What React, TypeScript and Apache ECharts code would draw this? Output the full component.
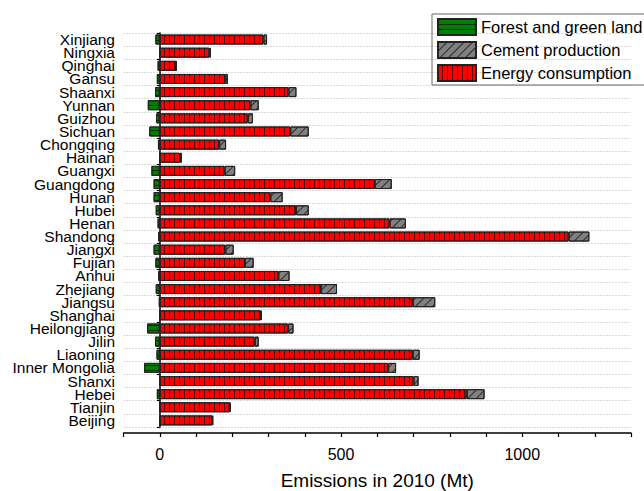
import React, { useEffect, useRef } from "react";
import * as echarts from "echarts";

const provinces = [
  "Beijing", "Tianjin", "Hebei", "Shanxi", "Inner Mongolia", "Liaoning", "Jilin", "Heilongjiang",
  "Shanghai", "Jiangsu", "Zhejiang", "Anhui", "Fujian", "Jiangxi", "Shandong", "Henan",
  "Hubei", "Hunan", "Guangdong", "Guangxi", "Hainan", "Chongqing", "Sichuan", "Guizhou",
  "Yunnan", "Shaanxi", "Gansu", "Qinghai", "Ningxia", "Xinjiang",
];

const energy = [
  145, 193, 847, 700, 630, 698, 262, 354,
  279, 698, 445, 327, 235, 181, 1128, 634,
  376, 305, 593, 179, 56, 164, 360, 243,
  250, 355, 181, 45, 137, 286,
];

const cement = [
  2, 2, 49, 14, 22, 19, 11, 15,
  3, 62, 44, 31, 24, 23, 57, 45,
  35, 34, 47, 29, 5, 19, 51, 14,
  23, 22, 7, 1, 4, 10,
];

const forest = [
  -1, -1, -8, -1, -43, -9, -13, -35,
  -1, -2, -11, -4, -12, -17, -4, -6,
  -11, -17, -17, -23, -1, -5, -29, -10,
  -33, -13, -8, -6, -1, -12,
];

const xTickLabels = [0, 500, 1000];

const FONT = "'Liberation Sans', Arial, sans-serif";

export default function App() {
  const ref = useRef<HTMLDivElement>(null);

  useEffect(() => {
    if (!ref.current) return;
    const chart = echarts.init(ref.current, undefined, { renderer: "svg" });
    const border = { borderColor: "#222", borderWidth: 1 };
    chart.setOption({
      animation: false,
      textStyle: { fontFamily: FONT },
      grid: {
        left: 123.5,
        right: 13,
        top: 33,
        bottom: 64,
        containLabel: false,
        outerBoundsMode: "none",
      },
      legend: {
        orient: "vertical",
        left: 432,
        top: 14,
        data: ["Forest and green land", "Cement production", "Energy consumption"],
        icon: "rect",
        itemWidth: 38,
        itemHeight: 16,
        itemGap: 5,
        padding: [4, 30, 3, 5],
        borderColor: "#666",
        borderWidth: 1,
        textStyle: { fontSize: 16.5, color: "#000", fontFamily: FONT },
      },
      xAxis: {
        type: "value",
        min: -100,
        max: 1300,
        interval: 100,
        offset: 6,
        axisLine: { show: true, onZero: false, lineStyle: { color: "#000", width: 1.5 } },
        axisTick: { show: true, length: 4, lineStyle: { color: "#000", width: 1.2 } },
        splitLine: { show: false },
        axisLabel: {
          fontSize: 16,
          color: "#000",
          margin: 13,
          fontFamily: FONT,
          formatter: (v: number) => (xTickLabels.includes(v) ? String(v) : ""),
        },
        name: "Emissions in 2010 (Mt)",
        nameLocation: "middle",
        nameGap: 38,
        nameTextStyle: { fontSize: 19, color: "#000", fontFamily: FONT },
      },
      yAxis: [
        {
          type: "category",
          data: provinces,
          position: "left",
          axisLine: { show: false, onZero: false },
          axisTick: { show: false },
          splitLine: { show: true, lineStyle: { color: "#b4b4b4", type: [1, 2], width: 1 } },
          axisLabel: {
            fontSize: 15.5,
            lineHeight: 13,
            color: "#000",
            margin: 8.5,
            interval: 0,
            fontFamily: FONT,
          },
        },
        {
          type: "category",
          data: provinces,
          position: "left",
          axisLine: { show: true, onZero: true, lineStyle: { color: "#000", width: 1.5 } },
          axisTick: { show: true, length: 3, lineStyle: { color: "#000", width: 1.2 } },
          axisLabel: { show: false },
          splitLine: { show: false },
        },
      ],
      series: [
        {
          name: "Energy consumption",
          type: "bar",
          stack: "total",
          data: energy,
          barWidth: 10,
          itemStyle: {
            color: "#ff0000",
            ...border,
            decal: {
              symbol: "rect",
              symbolSize: 1,
              color: "rgba(70,0,0,0.85)",
              dashArrayX: [1, 0],
              dashArrayY: [1, 4],
              rotation: Math.PI / 2,
            },
          },
        },
        {
          name: "Cement production",
          type: "bar",
          stack: "total",
          data: cement,
          barWidth: 10,
          itemStyle: {
            color: "#808080",
            ...border,
            decal: {
              symbol: "rect",
              symbolSize: 1,
              color: "#2a2a2a",
              dashArrayX: [1, 0],
              dashArrayY: [1, 5],
              rotation: -Math.PI / 4,
            },
          },
        },
        {
          name: "Forest and green land",
          type: "bar",
          stack: "total",
          data: forest,
          barWidth: 10,
          itemStyle: {
            color: "#008000",
            ...border,
            decal: {
              symbol: "rect",
              symbolSize: 1,
              color: "#003000",
              dashArrayX: [1, 0],
              dashArrayY: [1, 4],
              rotation: 0,
            },
          },
        },
      ],
    });
    return () => chart.dispose();
  }, []);

  return (
    <div
      ref={ref}
      style={{ position: "fixed", left: 0, top: 0, width: 644, height: 491, background: "#fff" }}
    />
  );
}
